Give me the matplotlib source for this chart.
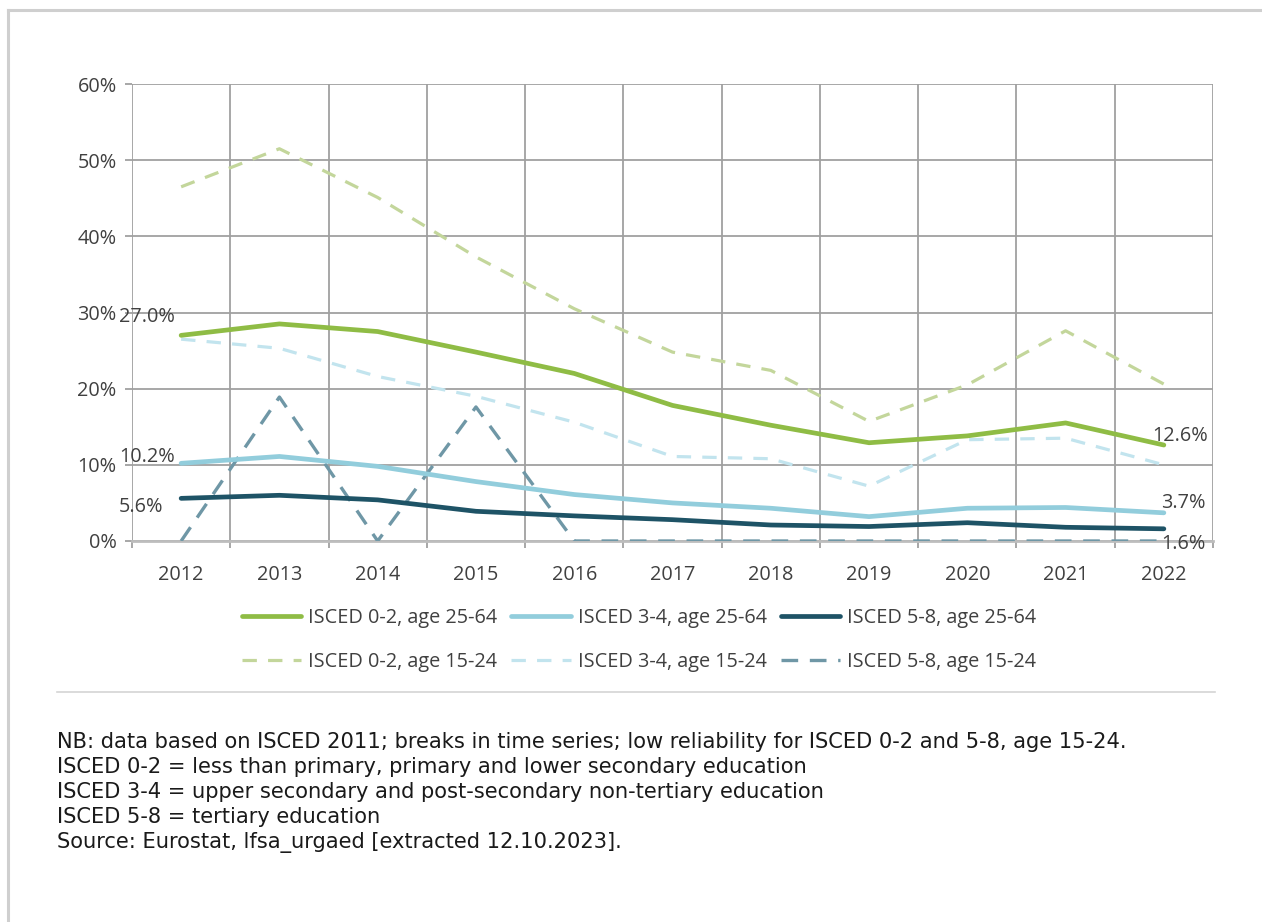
import matplotlib
matplotlib.use("Agg")
import matplotlib.pyplot as plt
from matplotlib.lines import Line2D
from matplotlib.ticker import FixedLocator, FuncFormatter

years = ["2012", "2013", "2014", "2015", "2016", "2017", "2018", "2019", "2020", "2021", "2022"]

isced02_2564 = [27.0, 28.5, 27.5, 24.8, 22.0, 17.8, 15.2, 12.9, 13.8, 15.5, 12.6]
isced34_2564 = [10.2, 11.1, 9.8, 7.8, 6.1, 5.0, 4.3, 3.2, 4.3, 4.4, 3.7]
isced58_2564 = [5.6, 6.0, 5.4, 3.9, 3.3, 2.8, 2.1, 1.9, 2.4, 1.8, 1.6]
isced02_1524 = [46.5, 51.5, 45.1, 37.3, 30.5, 24.8, 22.4, 15.7, 20.5, 27.6, 20.6]
isced34_1524 = [26.5, 25.3, 21.6, 19.0, 15.6, 11.1, 10.8, 7.2, 13.3, 13.5, 10.0]
isced58_1524 = [0.0, 18.9, 0.0, 17.6, 0.0, 0.0, 0.0, 0.0, 0.0, 0.0, 0.0]

series_labels = ["ISCED 0-2, age 25-64", "ISCED 3-4, age 25-64", "ISCED 5-8, age 25-64",
                 "ISCED 0-2, age 15-24", "ISCED 3-4, age 15-24", "ISCED 5-8, age 15-24"]
y_ticks = [0, 10, 20, 30, 40, 50, 60]

footnotes = [
    "NB: data based on ISCED 2011; breaks in time series; low reliability for ISCED 0-2 and 5-8, age 15-24.",
    "ISCED 0-2 = less than primary, primary and lower secondary education",
    "ISCED 3-4 = upper secondary and post-secondary non-tertiary education",
    "ISCED 5-8 = tertiary education",
    "Source: Eurostat, lfsa_urgaed [extracted 12.10.2023].",
]

W, H = 1262, 922
fig = plt.figure(figsize=(W / 100, H / 100), dpi=100)
fig.patch.set_facecolor("white")

CH_FONT = ["Open Sans", "DejaVu Sans"]
FS = 14.3
TXT = "#404040"

ax = fig.add_axes([132 / W, 1 - 541 / H, (1213 - 132) / W, (541 - 84) / H])
x = list(range(len(years)))

c_green, c_lblue, c_dark = "#8fbc45", "#92cddc", "#1e5366"
c_green_d, c_lblue_d, c_dark_d = "#c3d69b", "#c2e4ee", "#6f97a6"

l1, = ax.plot(x, isced02_2564, color=c_green, lw=3.4, solid_capstyle="round", zorder=5)
l2, = ax.plot(x, isced34_2564, color=c_lblue, lw=3.4, solid_capstyle="round", zorder=5)
l3, = ax.plot(x, isced58_2564, color=c_dark, lw=3.4, solid_capstyle="round", zorder=5)
dash = (0, (4.5, 3.5))
l4, = ax.plot(x, isced02_1524, color=c_green_d, lw=2.3, linestyle=dash, zorder=4)
l5, = ax.plot(x, isced34_1524, color=c_lblue_d, lw=2.3, linestyle=dash, zorder=4)
l6, = ax.plot(x, isced58_1524, color=c_dark_d, lw=2.4, linestyle=(0, (5, 3.5)), zorder=4)

ax.set_xlim(-0.5, len(years) - 0.5)
ax.set_ylim(0, 60)

grid_c = "#a0a0a0"
ax.xaxis.set_major_locator(FixedLocator([i - 0.5 for i in range(len(years) + 1)]))
ax.xaxis.set_minor_locator(FixedLocator(x))
ax.xaxis.set_major_formatter(FuncFormatter(lambda v, p: ""))
ax.xaxis.set_minor_formatter(FuncFormatter(lambda v, p: years[int(round(v))]))
ax.set_yticks(y_ticks)
ax.yaxis.set_major_formatter(FuncFormatter(lambda v, p: f"{int(v)}%"))

ax.grid(True, which="major", axis="both", color=grid_c, lw=1.3, zorder=0)
ax.set_axisbelow(True)
for s in ["top", "right", "left"]:
    ax.spines[s].set_visible(False)
ax.spines["bottom"].set_color("#bdbdbd")
ax.spines["bottom"].set_linewidth(2.0)

ax.tick_params(axis="x", which="major", length=5, width=1.3, color=grid_c, direction="out")
ax.tick_params(axis="x", which="minor", length=0, pad=17, labelsize=FS, labelcolor=TXT)
ax.tick_params(axis="y", which="major", length=5, width=1.3, color=grid_c, pad=6, labelsize=FS, labelcolor=TXT)
for lab in ax.get_xticklabels(minor=True) + ax.get_yticklabels():
    lab.set_family(CH_FONT)

def lab(xi, yv, text, dx, dy, ha):
    ax.annotate(text, (xi, yv), xytext=(dx, dy), textcoords="offset pixels",
                ha=ha, va="center", fontsize=FS, color=TXT, family=CH_FONT, zorder=6)

lab(0, isced02_2564[0], f"{isced02_2564[0]:.1f}%", -6, 18, "right")
lab(0, isced34_2564[0], f"{isced34_2564[0]:.1f}%", -6, 6, "right")
lab(0, isced58_2564[0], f"{isced58_2564[0]:.1f}%", -18, -9, "right")
lab(10, isced02_2564[-1], f"{isced02_2564[-1]:.1f}%", -12, 9, "left")
lab(10, isced34_2564[-1], f"{isced34_2564[-1]:.1f}%", -3, 10, "left")
lab(10, isced58_2564[-1], f"{isced58_2564[-1]:.1f}%", -3, -15, "left")

handles = [l1, l4, l2, l5, l3, l6]
labels = [series_labels[0], series_labels[3], series_labels[1], series_labels[4], series_labels[2], series_labels[5]]
leg = fig.legend(handles, labels, loc="center", bbox_to_anchor=(639 / W, 1 - 640 / H), ncol=3,
                 frameon=False, prop={"family": CH_FONT, "size": FS}, handlelength=3.0,
                 handletextpad=0.35, columnspacing=0.7, labelspacing=1.22)
for t in leg.get_texts():
    t.set_color(TXT)

# separator and border
fig.add_artist(Line2D([57 / W, 1215 / W], [1 - 692 / H, 1 - 692 / H], color="#d4d4d4", lw=1.2))
fig.add_artist(Line2D([8 / W, 1.0], [1 - 10 / H, 1 - 10 / H], color="#cfcfcf", lw=2.2))
fig.add_artist(Line2D([8 / W, 8 / W], [1 - 10 / H, 0.0], color="#cfcfcf", lw=2.2))

for i, t in enumerate(footnotes):
    fig.text(57 / W, 1 - (742 + 25 * i) / H, t, fontsize=15.1, family="DejaVu Sans",
             color="#1a1a1a", ha="left", va="center")

fig.savefig("out.png", dpi=100)
